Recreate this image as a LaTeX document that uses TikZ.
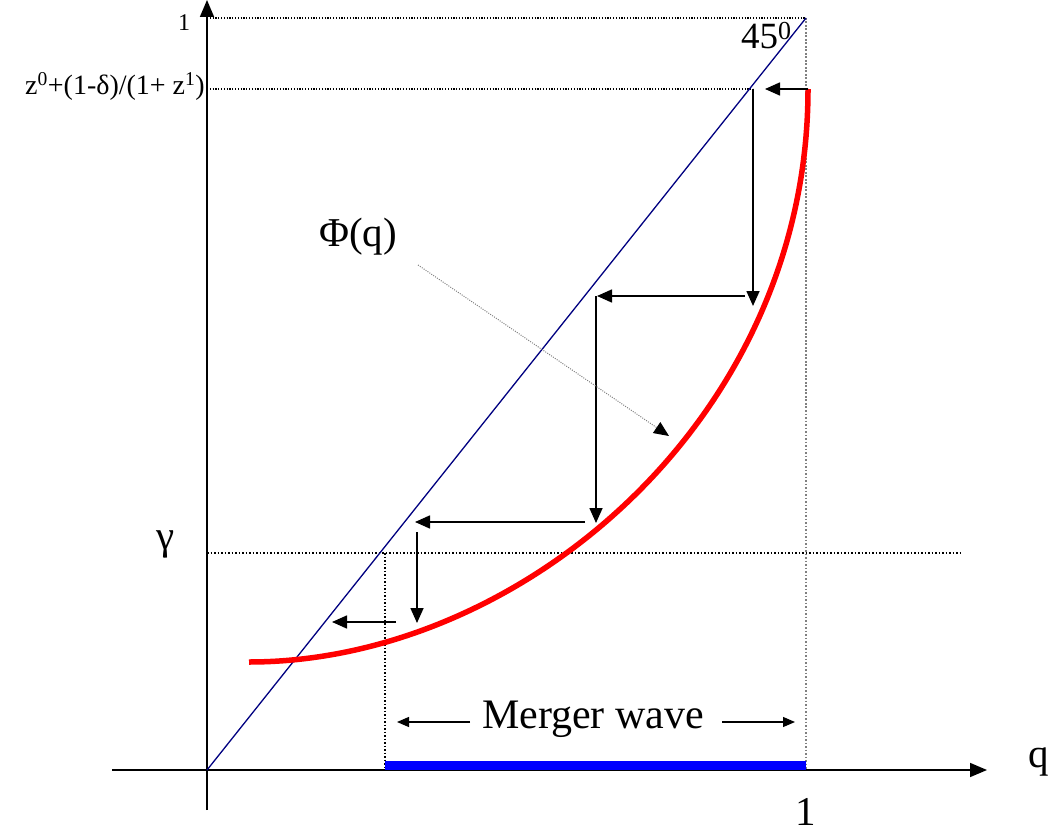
\documentclass[tikz,border=0pt]{standalone}
\usepackage{fontspec}
\setmainfont{Liberation Serif}
\usepackage{xcolor}
\usepackage{tikz}
\usetikzlibrary{arrows.meta}
\definecolor{phired}{HTML}{FF0000}
\definecolor{diagblue}{HTML}{000080}
\definecolor{wavblue}{HTML}{0000FF}

\begin{document}
\begin{tikzpicture}[x=1pt,y=-1pt,font=\fontsize{41}{44}\selectfont]
  \tikzstyle{axis}=[line width=1.6pt,-{Triangle[length=17pt,width=14pt]}]
  \tikzstyle{guide}=[line width=1.7pt,dash pattern=on 1.7pt off 1.8pt]
  \tikzstyle{web}=[line width=1.6pt,-{Triangle[length=15pt,width=13pt]}]
  \tikzstyle{lbl}=[inner sep=0pt,anchor=base]
  \useasboundingbox (0,0) rectangle (1054,834);
  % axes
  \coordinate (O) at (207,770);
  \coordinate (xs) at (112,770);
  \coordinate (xe) at (987,770);
  \coordinate (ys) at (207,810);
  \coordinate (ye) at (207,0);
  \coordinate (top) at (806,18);
  \coordinate (one) at (806,770);
  \draw[axis] (xs) -- (xe);
  \draw[axis] (ys) -- (ye);
  \node[lbl] (qlab) at (1039,767) {q};
  \node[lbl] (xone) at (806,825) {1};
  \node[lbl,font=\fontsize{24}{26}\selectfont] (yone) at (184,31) {1};
  \node[lbl,anchor=base east,font=\fontsize{28}{30}\selectfont] (zlab) at (205,95)
    {z\textsuperscript{0}+(1-δ)/(1+ z\textsuperscript{1})};
  \node[lbl] (glab) at (166,549) {γ};
  \node[lbl,anchor=base west,font=\fontsize{37}{40}\selectfont] (deg) at (741,49) {45\textsuperscript{0}};
  % dotted guides
  \coordinate (yt) at (207,18);
  \coordinate (zl) at (207,89);
  \coordinate (zr) at (753,89);
  \coordinate (gl) at (207,553);
  \coordinate (gr) at (962,553);
  \coordinate (gq) at (385,553);
  \coordinate (gb) at (385,770);
  \draw[guide,line width=1.2pt,dash pattern=on 1.2pt off 1.6pt] (yt) -- (top);
  \draw[guide,line width=1.3pt,gray] (top) -- (one);
  \draw[guide,line width=1.2pt,dash pattern=on 1.2pt off 1.6pt] (zl) -- (zr);
  \draw[guide] (gl) -- (gr);
  \draw[guide] (gq) -- (gb);
  % merger wave segment
  \coordinate (wl) at (385,765.5);
  \coordinate (wr) at (806,765.5);
  \draw[wavblue,line width=9pt] (wl) -- (wr);
  % 45 degree line and the map
  \draw[diagblue,line width=1.3pt] (O) -- (top);
  \coordinate (ps) at (249,662);
  \coordinate (pe) at (808,89);
  \draw[phired,line width=5.5pt] (ps) .. controls (520,662) and (808,420) .. (pe);
  % cobweb steps
  \coordinate (w1) at (765,89);
  \coordinate (w2) at (753,306);
  \coordinate (w3a) at (745,296);
  \coordinate (w3) at (597,296);
  \coordinate (w4a) at (596,296);
  \coordinate (w4) at (596,523);
  \coordinate (w5a) at (585,522);
  \coordinate (w5) at (415,522);
  \coordinate (w6a) at (417,532);
  \coordinate (w6) at (417,623);
  \coordinate (w7a) at (396,622);
  \coordinate (w7) at (332,622);
  \draw[web] (pe) -- (w1);
  \draw[web] (zr) -- (w2);
  \draw[web] (w3a) -- (w3);
  \draw[web] (w4a) -- (w4);
  \draw[web] (w5a) -- (w5);
  \draw[web] (w6a) -- (w6);
  \draw[web] (w7a) -- (w7);
  % Phi label with pointer
  \node (phi) at (358,237) {Φ(q)};
  \coordinate (pa) at (418,265);
  \coordinate (pb) at (669,436);
  \draw[gray,line width=1pt,dash pattern=on 1pt off 1.3pt,-{Triangle[length=15pt,width=13pt,black]}] (pa) -- (pb);
  % merger wave label
  \node[lbl,font=\fontsize{42}{44}\selectfont] (mw) at (593,728) {Merger wave};
  \coordinate (ma) at (470,722);
  \coordinate (mb) at (397,722);
  \coordinate (mc) at (722,722);
  \coordinate (md) at (795,722);
  \draw[line width=1.2pt,-{Triangle[length=12pt,width=10pt]}] (ma) -- (mb);
  \draw[line width=1.2pt,-{Triangle[length=12pt,width=10pt]}] (mc) -- (md);
\end{tikzpicture}
\end{document}
